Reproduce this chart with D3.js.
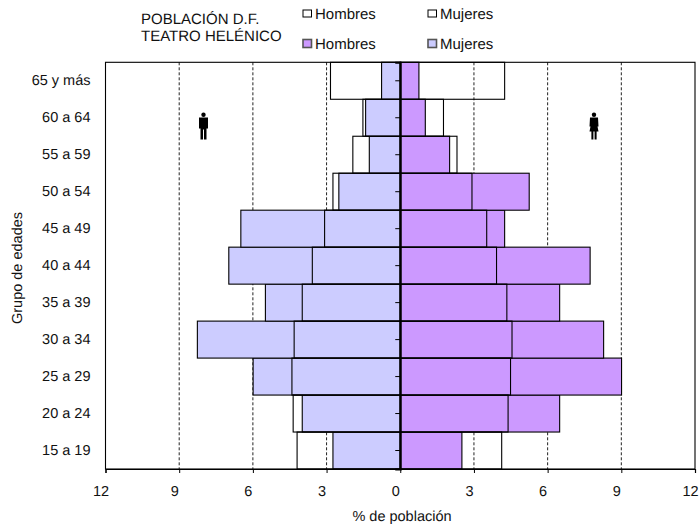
<!DOCTYPE html>
<html><head><meta charset="utf-8">
<script src="https://cdn.jsdelivr.net/npm/d3@7"></script>
<style>
html,body{margin:0;padding:0;background:#fff}
svg{display:block}
text{font-family:"Liberation Sans",Arial,sans-serif;fill:#111;text-rendering:geometricPrecision}
</style></head><body><svg id="c" width="699" height="529"></svg>
<script>
const categories=["15 a 19","20 a 24","25 a 29","30 a 34","35 a 39","40 a 44","45 a 49","50 a 54","55 a 59","60 a 64","65 y más"];
const hombresColor=[2.74,3.99,5.99,8.26,5.49,6.98,6.49,2.50,1.26,1.41,0.76];
const mujeresColor=[2.51,6.49,9.01,8.28,6.49,7.73,4.25,5.25,2.01,1.02,0.76];
const hombresOutline=[4.20,4.36,4.41,4.32,3.99,3.58,3.08,2.74,1.93,1.52,2.84];
const mujeresOutline=[4.13,4.39,4.49,4.55,4.34,3.92,3.52,2.92,2.31,1.76,4.25];
const xTicks=[-12,-9,-6,-3,0,3,6,9,12];
const gridTicks=[-9,-6,-3,3,6,9];
const titleLines=["POBLACIÓN D.F.","TEATRO HELÉNICO"];
const legendRows=[
 {label:"Hombres",fill:"#fff",stroke:"#000",col:0,row:0},
 {label:"Mujeres",fill:"#fff",stroke:"#000",col:1,row:0},
 {label:"Hombres",fill:"#CC99FF",stroke:"#555",col:0,row:1},
 {label:"Mujeres",fill:"#CCCCFF",stroke:"#555",col:1,row:1}];

const svg=d3.select("#c");
const L=105.5,R=695,T=62.3,B=469;
const x=d3.scaleLinear().domain([-12,12]).range([L,R]);
const y=d3.scaleBand().domain(categories.slice().reverse()).range([T,B]).padding(0);

svg.append("g").selectAll("line").data(gridTicks).join("line")
 .attr("x1",d=>x(d)).attr("x2",d=>x(d)).attr("y1",T).attr("y2",B)
 .attr("stroke","#222").attr("stroke-width",1).attr("stroke-dasharray","3 2");

function bars(vals,sign,fill,sw){
 svg.append("g").selectAll("rect").data(vals).join("rect")
  .attr("x",(d,i)=>sign<0?x(-d):x(0))
  .attr("width",d=>Math.abs(x(d)-x(0)))
  .attr("y",(d,i)=>y(categories[i]))
  .attr("height",y.bandwidth())
  .attr("fill",fill).attr("stroke","#000").attr("stroke-width",sw);
}
bars(hombresColor,-1,"#CCCCFF",1.1);
bars(mujeresColor,1,"#CC99FF",1.1);
bars(hombresOutline,-1,"none",1.1);
bars(mujeresOutline,1,"none",1.1);

svg.append("rect").attr("x",L).attr("y",T).attr("width",R-L).attr("height",B-T)
 .attr("fill","none").attr("stroke","#000").attr("stroke-width",1.1);

const xAxis=svg.append("g").attr("transform",`translate(0,${B})`)
 .call(d3.axisBottom(x).tickValues(xTicks).tickFormat(d=>Math.abs(d)).tickSize(4).tickPadding(13));
xAxis.select(".domain").attr("stroke","#000").attr("stroke-width",1.2);
xAxis.selectAll("line").attr("stroke","#000");
xAxis.selectAll("text").attr("font-size",14.5).attr("dx",-5).attr("font-family","Liberation Sans");

const yAxis=svg.append("g").attr("transform",`translate(${x(0)},0)`)
 .call(d3.axisLeft(y).tickSize(5).tickPadding(0));
yAxis.select(".domain").attr("stroke","#000").attr("stroke-width",2);
yAxis.selectAll("line").attr("stroke","#000");
yAxis.selectAll("text").attr("font-size",14.5).attr("font-family","Liberation Sans")
 .attr("text-anchor","end").attr("x",90.5-x(0));

svg.append("text").attr("x",402).attr("y",521).attr("text-anchor","middle").attr("font-size",14.5).text("% de población");
svg.append("text").attr("transform","translate(22,268) rotate(-90)").attr("text-anchor","middle").attr("font-size",14.5).text("Grupo de edades");

svg.selectAll("text.t").data(titleLines).join("text").attr("class","t")
 .attr("x",141).attr("y",(d,i)=>23.5+i*17.5).attr("font-size",15).text(d=>d);

const lx=[303,428], tx=[315,440], ly=[10,39.5], lh=[7,8];
const lg=svg.append("g");
lg.selectAll("rect").data(legendRows).join("rect")
 .attr("x",d=>lx[d.col]).attr("y",d=>ly[d.row]).attr("width",8.5).attr("height",d=>lh[d.row])
 .attr("fill",d=>d.fill).attr("stroke",d=>d.stroke).attr("stroke-width",d=>d.row?1.6:1);
lg.selectAll("text").data(legendRows).join("text")
 .attr("x",d=>tx[d.col]).attr("y",d=>d.row?49:19).attr("font-size",15).text(d=>d.label);

function person(cx,top,female){
 const g=svg.append("g").attr("transform",`translate(${cx},${top})`).attr("fill","#000");
 g.append("circle").attr("cx",0).attr("cy",2.2).attr("r",2.2);
 if(female){
  g.append("path").attr("d","M-4,5 H4 L4.5,14 H3.5 L4.5,19 H-4.5 L-3.5,14 H-4.5 Z");
  g.append("rect").attr("x",-2.6).attr("y",18).attr("width",2).attr("height",9);
  g.append("rect").attr("x",0.6).attr("y",18).attr("width",2).attr("height",9);
 } else {
  g.append("path").attr("d","M-4.5,5 H4.5 V16 H3 V27 H0.5 V17 H-0.5 V27 H-3 V16 H-4.5 Z");
 }
}
person(203.5,112.5,false);
person(594,112.5,true);
</script></body></html>
